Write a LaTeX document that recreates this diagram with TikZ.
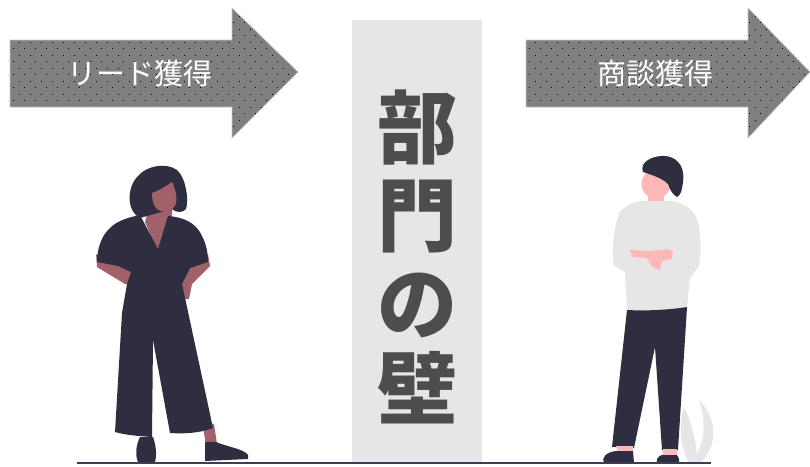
\documentclass[tikz,border=0pt]{standalone}
\usepackage{fontspec}
\newfontfamily\jpfont{Noto Sans CJK JP}
\definecolor{arrowgray}{HTML}{7F7F7F}
\definecolor{wallgray}{HTML}{E6E6E6}
\definecolor{walltext}{HTML}{4D4D4D}
\definecolor{figdark}{HTML}{2F2E41}
\definecolor{skinwarm}{HTML}{A0616A}
\definecolor{skinpink}{HTML}{FFB8B8}
\definecolor{shirtgray}{HTML}{E6E6E6}
\definecolor{groundline}{HTML}{3F3D56}
\tikzset{
  arrowtext/.style={text=white, font=\jpfont\fontsize{29}{29}\selectfont, inner sep=0pt},
  walltxt/.style={text=walltext, font=\jpfont\bfseries\fontsize{80}{80}\selectfont, inner sep=0pt},
  dark/.style={fill=figdark},
  warm/.style={fill=skinwarm},
  pink/.style={fill=skinpink},
}
\begin{document}
\begin{tikzpicture}[x=1pt,y=-1pt]
\useasboundingbox (0,0) rectangle (810,466);

% dotted block arrows
\foreach \sx/\hx/\tx in {10/232/298, 526/748/810} {
  \fill[arrowgray] (\sx,40) -- (\hx,40) -- (\hx,8) -- (\tx,72) -- (\hx,138) -- (\hx,107) -- (\sx,107) -- cycle;
  \begin{scope}
    \clip (\sx,40) -- (\hx,40) -- (\hx,8) -- (\tx,72) -- (\hx,138) -- (\hx,107) -- (\sx,107) -- cycle;
    \foreach \r in {0,...,20} {
      \pgfmathsetmacro\yy{9+\r*6.5}
      \pgfmathsetmacro\off{mod(\r,2)*5.5}
      \foreach \c in {0,...,27} {
        \fill[black] ({\sx+3+\off+\c*11},\yy) rectangle +(1.4,1.4);
      }
    }
  \end{scope}
  \draw[gray!45, line width=0.6pt] (\sx,40) -- (\hx,40) -- (\hx,8) -- (\tx,72) -- (\hx,138) -- (\hx,107) -- (\sx,107) -- cycle;
}
\node[arrowtext] (lead) at (140,73) {リード獲得};
\node[arrowtext] (deal) at (655,73) {商談獲得};

% the wall
\fill[wallgray] (352,20) rectangle (482,463);
\node[walltxt] (w1) at (417,127) {部};
\node[walltxt] (w2) at (417,217) {門};
\node[walltxt] (w3) at (417,305) {の};
\node[walltxt] (w4) at (417,388) {壁};

% woman: arms, neck and face
\path[warm] (96,254) -- (97,267) -- (125,284) -- (134,283) -- (133,272) -- (112,262) -- cycle;
\path[warm] (208,254) -- (210,266) -- (192,284) -- (189,299) -- (184,299) -- (180,284) -- (186,270) -- cycle;
\path[warm] (150,204) -- (173,204) -- (171,225) -- (158,252) -- (145,222) -- cycle;
\path[warm] (203,426) -- (214,424) -- (217,444) -- (206,446) -- cycle;
% woman: hair
\path[dark] (140,218) .. controls (127,212) and (126,188) .. (138,176)
  .. controls (146,166) and (166,162) .. (177,170)
  .. controls (186,178) and (189,200) .. (186,209)
  .. controls (183,213) and (176,213) .. (172,209) -- cycle;
\path[warm] (152,193) .. controls (160,190) and (168,185) .. (172,182)
  .. controls (176,190) and (178,200) .. (175,206)
  .. controls (172,211) and (166,213) .. (161,211)
  .. controls (156,210) and (152,205) .. (152,193) -- cycle;
% woman: jumpsuit
\path[dark] (140,215) -- (158,249) -- (168,216)
  .. controls (182,217) and (196,222) .. (202,236)
  .. controls (206,244) and (208,252) .. (208,262)
  -- (190,268) -- (182,284) -- (187,307) -- (213,428)
  .. controls (200,433) and (185,434) .. (170,433)
  -- (153,340) -- (152,437)
  .. controls (138,436) and (125,435) .. (115,432)
  -- (122,313) -- (127,284) -- (131,272) -- (118,266) -- (97,262)
  .. controls (97,248) and (102,235) .. (110,228)
  .. controls (116,222) and (125,218) .. (140,215) -- cycle;
% woman: shoes
\path[dark] (205,442) -- (216,442) .. controls (228,447) and (244,449) .. (248,455)
  -- (248,459) -- (205,461) -- cycle;
\path[dark] (140,437) -- (153,437) .. controls (156,445) and (157,455) .. (155,462)
  -- (138,462) .. controls (135,455) and (136,445) .. (140,437) -- cycle;

% plant behind the man
\path[fill=shirtgray] (700,463) .. controls (719,445) and (717,418) .. (699,400)
  .. controls (706,420) and (706,445) .. (691,463) -- cycle;
\path[fill=shirtgray] (689,463) .. controls (679,445) and (679,425) .. (684,407)
  .. controls (693,425) and (697,445) .. (697,463) -- cycle;

% man: face and hair
\path[pink] (648,192) rectangle (664,206);
\path[pink] (656,184) circle[radius=14.5];
\path[dark] (643,172) .. controls (639,162) and (653,155) .. (666,156)
  .. controls (680,158) and (685,170) .. (683,182)
  .. controls (682,190) and (681,195) .. (677,197)
  .. controls (673,195) and (670,190) .. (668,184)
  .. controls (662,178) and (652,175) .. (643,172) -- cycle;
% man: shirt
\path[fill=shirtgray] (640,201) -- (672,201)
  .. controls (685,204) and (695,210) .. (698,222)
  .. controls (701,235) and (701,255) .. (699,266)
  -- (690,278) -- (687,307)
  .. controls (668,310) and (645,311) .. (627,310)
  -- (625,272) -- (614,266)
  .. controls (611,250) and (614,225) .. (620,212)
  .. controls (625,206) and (632,203) .. (640,201) -- cycle;
% man: crossed hands
\path[pink] (630,250) -- (650,251) -- (668,249) -- (673,252) -- (672,259)
  -- (662,261) -- (660,270) -- (652,267) -- (647,258) -- (632,257) -- cycle;
% man: trousers
\path[dark] (627,310) .. controls (645,311) and (668,310) .. (687,307)
  -- (678,450) -- (662,450) -- (655,347) -- (634,448) -- (612,447) -- cycle;
% man: ankles and shoes
\path[pink] (616,446) -- (633,446) -- (633,453) -- (618,453) -- cycle;
\path[pink] (663,449) -- (677,449) -- (677,456) -- (663,456) -- cycle;
\path[dark] (633,451) -- (634,463) -- (604,463)
  .. controls (601,458) and (606,452) .. (616,451) -- cycle;
\path[dark] (662,455) -- (677,455) .. controls (679,458) and (680,461) .. (679,463)
  -- (657,463) .. controls (656,459) and (658,456) .. (662,455) -- cycle;

% ground
\coordinate (g1) at (77,463);
\coordinate (g2) at (711,463);
\draw[groundline, line width=1.5pt] (g1) -- (g2);
\end{tikzpicture}
\end{document}
